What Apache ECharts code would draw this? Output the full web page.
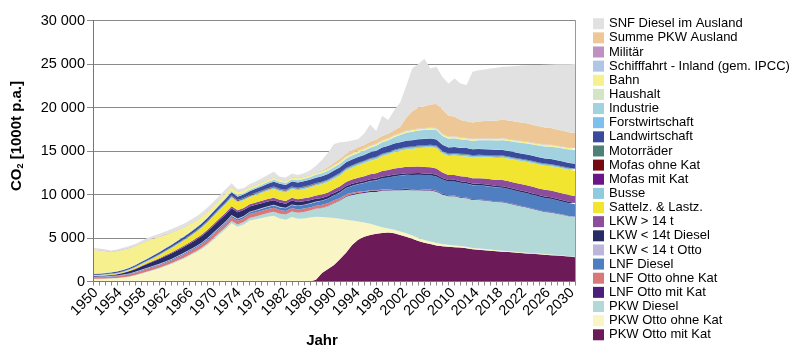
<!DOCTYPE html>
<html><head><meta charset="utf-8">
<script src="https://cdn.jsdelivr.net/npm/echarts@6/dist/echarts.min.js"></script>
<style>html,body{margin:0;padding:0;background:#fff}#c{width:800px;height:359px}</style>
</head><body><div id="c"></div>
<script>
var years=[];for(var y=1950;y<=2030;y++)years.push(String(y));
var yTicks=[0,5000,10000,15000,20000,25000,30000];

var pkwOttoMitKat=[0,0,0,0,0,0,0,0,0,0,0,0,0,0,0,0,0,0,0,0,0,0,0,0,0,0,0,0,0,0,0,0,0,0,0,0,0,
200,980,1450,1900,2600,3300,4200,4800,5150,5350,5480,5580,5620,5540,5350,5150,4900,4650,4450,4300,4150,4050,4000,3950,3900,3820,3700,3650,3600,3540,3480,3430,3380,3330,3280,3230,3180,3130,3080,3030,2980,2920,2860,2800];
var pkwOttoOhneKat=[300,310,330,350,380,450,550,700,900,1100,1300,1500,1750,2000,2300,2600,2950,3300,3700,4200,4800,5400,6000,6700,6300,6550,7000,7150,7300,7450,7550,7250,7100,7400,7200,7250,7350,7250,6420,5900,5400,4600,3800,2800,2100,1630,1300,970,670,480,410,400,390,380,350,330,300,270,250,220,200,180,170,160,150,140,130,120,110,100,95,90,85,80,75,70,65,60,55,50,50];
var pkwDiesel=[20,20,20,25,30,30,35,40,50,55,60,70,80,90,100,110,120,140,160,180,200,220,240,260,260,280,300,330,370,420,480,550,600,650,700,750,800,900,1050,1300,1690,2100,2650,2950,3200,3400,3650,3850,4200,4350,4550,4750,4980,5200,5500,5680,5850,5900,5700,5580,5650,5560,5580,5520,5570,5560,5550,5530,5560,5480,5380,5280,5200,5080,4960,4850,4840,4750,4660,4580,4530];
var lnfOttoMitKat=[0,0,0,0,0,0,0,0,0,0,0,0,0,0,0,0,0,0,0,0,0,0,0,0,0,0,0,0,0,0,0,0,0,0,0,0,0,0,
20,40,60,70,80,90,95,100,100,100,100,100,100,100,100,95,95,90,85,80,75,72,70,68,66,64,62,60,58,56,55,53,52,50,49,48,47,46,45,44,43,42,40];
var lnfOttoOhneKat=[150,150,160,170,180,200,220,240,260,270,280,290,300,320,340,360,380,385,390,390,390,400,410,420,410,420,450,460,460,450,440,420,400,400,390,380,370,360,340,310,280,240,200,160,130,100,80,65,55,45,40,38,35,33,30,28,26,24,22,21,20,19,18,18,17,17,16,16,15,15,14,14,13,13,12,12,11,11,10,10,10];
var lnfDiesel=[50,50,55,60,65,70,75,80,90,95,100,105,110,115,120,125,130,135,140,145,150,160,170,180,180,190,200,220,240,260,280,300,320,350,380,400,420,440,460,500,550,620,700,780,860,950,1050,1150,1250,1350,1450,1530,1600,1630,1640,1650,1650,1650,1620,1600,1610,1610,1610,1610,1610,1610,1610,1610,1610,1600,1590,1580,1570,1560,1550,1540,1520,1500,1480,1460,1440];
var lkwKlOtto=[40,40,42,44,46,48,50,52,55,58,60,62,64,66,68,70,72,74,76,78,80,80,80,80,78,76,74,72,70,68,65,62,60,57,54,50,47,44,40,36,32,28,25,22,20,18,16,14,13,12,11,10,10,10,10,9,9,9,9,9,8,8,8,8,8,7,7,7,7,7,7,6,6,6,6,6,6,5,5,5,5];
var lkwKlDiesel=[80,80,90,100,130,180,240,310,380,440,500,550,590,620,640,660,680,710,740,770,800,810,800,780,740,700,600,580,560,540,520,500,470,440,410,380,350,320,300,280,260,240,230,220,210,205,200,198,196,194,192,190,190,188,186,185,184,183,180,178,177,176,175,174,173,172,170,169,168,167,165,164,162,161,160,158,157,155,154,152,150];
var lkwGr14=[0,0,5,10,15,20,30,45,60,75,90,100,115,125,135,145,150,160,170,180,190,200,210,220,220,230,250,260,270,285,300,305,310,320,330,345,360,380,395,410,420,440,460,490,520,550,580,610,640,670,700,720,730,740,750,750,740,720,620,560,560,580,600,620,640,660,680,690,700,710,720,730,740,750,760,770,780,785,790,795,800];
var sattelz=[60,60,65,70,80,90,110,130,160,200,260,330,400,460,520,580,640,700,760,820,880,930,980,1000,920,880,800,850,900,950,1000,990,980,1000,1030,1060,1090,1130,1170,1200,1230,1260,1300,1360,1420,1480,1550,1620,1700,1780,1860,1930,1990,2050,2120,2200,2280,2350,2200,2180,2250,2290,2330,2370,2410,2450,2490,2530,2570,2600,2630,2660,2690,2720,2750,2780,2800,2830,2860,2880,2910];
var busse=[50,50,55,55,60,60,65,70,75,80,85,90,95,100,105,110,115,120,125,130,135,140,145,150,150,155,160,165,170,175,180,182,184,186,188,190,192,194,196,198,200,200,200,200,200,200,200,200,200,200,200,200,200,198,196,194,192,190,188,186,184,182,180,178,176,174,172,170,168,166,164,162,160,158,156,154,153,152,151,150,150];
var mofasMitKat=[0,0,0,0,0,0,0,0,0,0,0,0,0,0,0,0,0,0,0,0,0,0,0,0,0,0,0,0,0,0,0,0,0,0,0,0,0,0,0,0,0,
3,6,9,10,10,10,10,10,10,10,10,10,10,10,10,10,10,10,10,10,10,10,10,10,10,10,10,10,10,10,10,10,10,10,10,10,10,10,10,10];
var mofasOhneKat=[0,2,4,6,8,10,14,18,22,26,30,34,38,42,46,50,52,54,56,58,60,62,64,66,68,70,68,66,64,62,60,58,56,54,52,50,46,42,38,34,30,26,22,18,14,10,9,8,7,6,5,4,3,2,1,0,0,0,0,0,0,0,0,0,0,0,0,0,0,0,0,0,0,0,0,0,0,0,0,0,0];
var motorraeder=[20,21,22,23,24,25,26,27,28,29,30,30,30,30,30,30,30,30,30,30,30,32,34,36,38,40,42,44,46,48,50,51,52,53,54,55,56,57,58,59,60,62,64,66,68,70,72,74,76,78,80,81,82,83,84,85,86,87,88,89,90,89,88,87,86,85,84,83,82,81,80,79,78,77,76,75,74,73,72,71,70];
var landwirtschaft=[100,105,110,115,120,130,140,150,160,170,180,195,210,225,240,250,265,280,295,310,320,340,360,380,390,400,420,450,480,520,550,555,560,570,580,600,610,620,630,640,650,655,660,665,670,680,685,690,695,700,700,705,710,715,720,720,715,710,700,695,690,683,676,669,662,655,648,641,634,627,620,614,608,602,596,590,584,578,572,566,560];
var forstwirtschaft=[15,15,15,15,15,15,15,15,15,15,15,15,15,15,15,15,15,15,15,15,20,20,20,20,20,20,20,20,20,20,20,20,20,20,20,20,20,20,20,20,20,20,20,20,20,20,20,20,20,20,25,25,25,25,25,25,25,25,25,25,25,25,25,25,25,25,25,25,25,25,25,25,25,25,25,25,25,25,25,25,25];
var industrie=[30,30,30,30,30,30,30,30,30,30,30,35,40,45,50,55,60,65,70,75,80,90,100,110,130,140,150,160,170,180,200,210,220,230,240,260,280,300,320,340,360,380,400,420,440,460,500,540,580,620,700,800,900,950,980,1000,1000,1050,1000,980,980,950,930,950,980,1010,1040,1070,1100,1130,1160,1200,1240,1280,1320,1360,1400,1440,1480,1520,1560];
var haushalt=[35,35,35,35,35,35,35,35,35,35,35,35,35,35,35,35,35,35,35,35,35,35,35,35,35,35,35,35,35,35,30,30,30,30,30,30,30,30,30,30,30,30,30,30,30,30,30,30,30,30,30,30,30,30,30,30,30,30,30,30,25,25,25,25,25,25,25,25,25,25,25,25,25,25,25,25,25,25,25,25,25];
var bahn=[2700,2600,2450,2260,2270,2270,2200,2110,2050,2010,1850,1680,1480,1310,1140,960,850,720,650,600,530,520,500,410,360,260,250,240,230,220,210,205,200,200,200,200,200,195,190,190,185,185,180,180,180,175,175,175,170,170,170,165,165,165,160,160,160,160,160,160,160,158,158,158,156,156,156,155,155,155,154,154,153,153,152,152,151,151,150,150,150];
var schifffahrt=[35,35,35,35,35,35,35,35,35,35,35,35,35,35,35,35,35,35,35,35,30,30,30,30,30,30,30,30,30,30,30,30,30,30,30,30,30,30,30,30,30,30,30,30,30,30,30,30,30,30,30,30,30,30,30,30,30,30,30,30,30,30,30,30,30,30,30,30,30,30,30,30,30,30,30,30,30,30,30,30,30];
var militaer=[30,30,30,30,30,30,30,30,30,30,30,30,30,30,30,30,30,30,30,30,30,30,30,30,30,30,30,30,30,30,30,30,30,30,30,30,30,30,30,30,25,25,25,25,25,25,25,25,25,25,25,25,25,25,25,25,25,25,25,25,25,25,25,25,25,25,25,25,25,25,25,25,25,25,25,25,25,25,25,25,25];
var pkwAusland=[0,0,0,0,0,0,0,0,0,0,0,0,0,0,0,0,0,0,0,0,0,0,0,0,0,0,0,0,0,0,0,0,0,0,0,0,0,0,
80,150,250,300,330,350,380,400,420,450,480,500,550,700,1500,2100,2400,2500,2650,2750,2800,2400,2250,2000,1900,1870,1930,1970,2020,2060,2100,2130,2120,2100,2080,2030,1990,1940,1900,1850,1800,1750,1720];
var snfAusland=[150,150,150,120,130,150,170,190,220,250,280,300,320,340,360,380,400,420,430,420,400,400,400,400,250,200,330,340,410,510,620,300,330,380,330,370,470,760,1160,1650,2130,1880,1350,1110,920,1330,1990,990,2320,1570,2320,2810,3650,4940,5010,5450,4150,4280,3720,3720,4380,4200,4150,5830,5900,5930,5990,6070,6100,6210,6380,6540,6670,6860,7040,7220,7300,7480,7650,7820,7930];

var seriesDefs=[
['PKW Otto mit Kat',pkwOttoMitKat,'#6c1a58'],
['PKW Otto ohne Kat',pkwOttoOhneKat,'#f9f5c4'],
['PKW Diesel',pkwDiesel,'#b2d8d8'],
['LNF Otto mit Kat',lnfOttoMitKat,'#4c1f7c'],
['LNF Otto ohne Kat',lnfOttoOhneKat,'#d87878'],
['LNF Diesel',lnfDiesel,'#4f7fc0'],
['LKW < 14 t Otto',lkwKlOtto,'#bcb6dc'],
['LKW < 14t Diesel',lkwKlDiesel,'#282c66'],
['LKW > 14 t',lkwGr14,'#8c4d9c'],
['Sattelz. & Lastz.',sattelz,'#f2e52f'],
['Busse',busse,'#8fcadd'],
['Mofas mit Kat',mofasMitKat,'#6c1586'],
['Mofas ohne Kat',mofasOhneKat,'#760812'],
['Motorräder',motorraeder,'#4e8078'],
['Landwirtschaft',landwirtschaft,'#3a4a9c'],
['Forstwirtschaft',forstwirtschaft,'#7cc1ee'],
['Industrie',industrie,'#a2d2e0'],
['Haushalt',haushalt,'#d2e5c5'],
['Bahn',bahn,'#f7f08f'],
['Schifffahrt - Inland (gem. IPCC)',schifffahrt,'#afc6e6'],
['Militär',militaer,'#bf90c2'],
['Summe PKW Ausland',pkwAusland,'#edc795'],
['SNF Diesel im Ausland',snfAusland,'#e1e1e1']
];

var FONT='"Liberation Sans", Arial, Helvetica, sans-serif';
var series=seriesDefs.map(function(d){
  return {name:d[0],type:'line',stack:'total',data:d[1],symbol:'none',showSymbol:false,
    lineStyle:{width:0,opacity:0},areaStyle:{color:d[2],opacity:1},itemStyle:{color:d[2]},
    emphasis:{disabled:true},silent:true,z:2};
});
var legendNames=seriesDefs.map(function(d){return d[0];}).reverse();

var chart=echarts.init(document.getElementById('c'),null,{renderer:'canvas'});
function fmt(v){return v===0?'0':(v/1000)+' 000';}
chart.setOption({
  animation:false,
  backgroundColor:'#fff',
  grid:{left:93,right:225,top:20.5,bottom:77.5,containLabel:false},
  legend:{orient:'vertical',left:588,top:12.2,data:legendNames,icon:'rect',itemWidth:11,itemHeight:11,itemGap:1.14,
    selectedMode:false,textStyle:{fontFamily:FONT,fontSize:13,lineHeight:13,color:'#000'}},
  xAxis:[
    {type:'category',data:years,boundaryGap:false,z:10,
      axisLine:{show:true,lineStyle:{color:'#777',width:1}},
      axisTick:{show:true,interval:0,length:4,lineStyle:{color:'#888'}},
      axisLabel:{show:false},splitLine:{show:false}},
    {type:'category',data:years,boundaryGap:true,position:'bottom',z:10,
      axisLine:{show:false},axisTick:{show:false},splitLine:{show:false},
      axisLabel:{interval:3,rotate:45,margin:9,fontFamily:FONT,fontSize:14.5,color:'#000'}}
  ],
  yAxis:[
    {type:'value',min:0,max:30000,interval:5000,z:0,axisLine:{show:false},axisTick:{show:false},axisLabel:{show:false},
      splitLine:{show:true,lineStyle:{color:'#8a8a8a',width:1}}},
    {type:'value',min:0,max:30000,interval:5000,position:'left',z:10,
      axisLine:{show:true,lineStyle:{color:'#777',width:1}},
      axisTick:{show:true,length:6,lineStyle:{color:'#888'}},
      axisLabel:{margin:8,fontFamily:FONT,fontSize:14.5,color:'#000',formatter:fmt},
      splitLine:{show:false}},
    {type:'value',min:0,max:30000,interval:5000,position:'right',z:10,
      axisLine:{show:true,lineStyle:{color:'#999',width:1}},axisTick:{show:false},axisLabel:{show:false},splitLine:{show:false}}
  ],
  graphic:[
    {type:'text',x:17,y:136,rotation:Math.PI/2,z:20,
      style:{text:'{a|CO}{s|2}{a| [1000t p.a.]}',align:'center',verticalAlign:'middle',fill:'#000',
        rich:{a:{fontFamily:FONT,fontSize:15,fontWeight:'bold',lineHeight:17,fill:'#000'},
              s:{fontFamily:FONT,fontSize:9,fontWeight:'bold',lineHeight:9,verticalAlign:'bottom',fill:'#000'}}}},
    {type:'text',x:322,y:341,z:20,
      style:{text:'Jahr',align:'center',verticalAlign:'middle',fill:'#000',font:'bold 15px '+FONT}}
  ],
  series:series
});
</script></body></html>
